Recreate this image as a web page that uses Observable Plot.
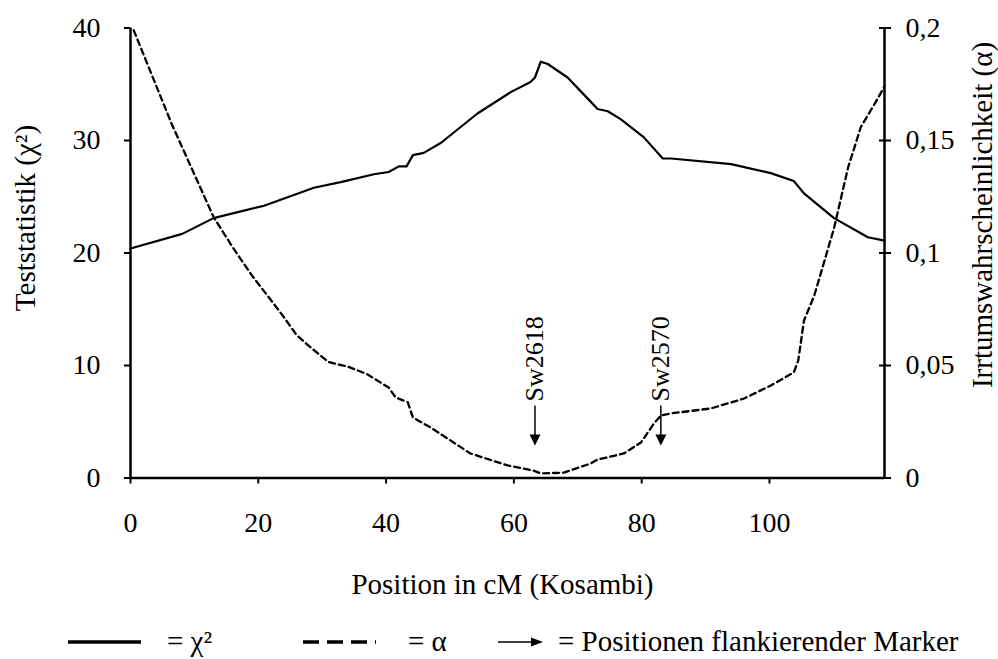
<!DOCTYPE html>
<html>
<head>
<meta charset="utf-8">
<script src="https://cdn.jsdelivr.net/npm/d3@7"></script>
<script src="https://cdn.jsdelivr.net/npm/@observablehq/plot@0.6"></script>
<style>
  html, body { margin: 0; padding: 0; background: #fff; }
  #chart { width: 998px; }
  svg text { font-family: "Liberation Serif", "Times New Roman", serif; }
</style>
</head>
<body>
<div id="chart"></div>
<div id="legend"></div>
<script>
// ---- data ----
const chi2Pos = [0, 8.1, 13, 20.9, 28.7, 32.9, 38.1, 40.4, 42.0, 43.2, 44.2, 45.9, 48.6, 54.3, 59.5, 62.6, 63.3, 64.2, 65.3, 68.4, 71.6, 73.1, 74.7, 76.7, 80.3, 83.3, 84.6, 94.0, 100.2, 103.8, 105.4, 110.1, 115.4, 118];
const chi2Val = [20.4, 21.7, 23.1, 24.2, 25.8, 26.3, 27.0, 27.2, 27.7, 27.7, 28.7, 28.9, 29.8, 32.4, 34.3, 35.2, 35.6, 37.0, 36.8, 35.6, 33.7, 32.8, 32.6, 31.9, 30.3, 28.4, 28.4, 27.9, 27.1, 26.4, 25.3, 23.1, 21.4, 21.1];

const alphaPos = [0.5, 6.5, 13, 16, 19, 22, 24, 26, 28, 31, 34, 37, 40.4, 41.5, 43.4, 44.2, 47.0, 53.2, 59.0, 63.1, 64.2, 67.8, 72, 73.1, 77.2, 79.9, 81.9, 83, 84.6, 90.8, 96, 100.2, 103.8, 104.5, 105.4, 107, 110.1, 112.3, 114.3, 116.4, 118];
const alphaVal = [0.199, 0.157, 0.116, 0.1025, 0.090, 0.079, 0.0715, 0.0635, 0.0585, 0.0515, 0.0495, 0.0462, 0.0402, 0.0358, 0.0336, 0.0269, 0.0224, 0.0109, 0.0056, 0.0033, 0.0020, 0.0024, 0.0064, 0.0082, 0.0109, 0.0158, 0.0242, 0.0278, 0.0287, 0.0309, 0.0353, 0.0411, 0.0469, 0.0522, 0.070, 0.081, 0.111, 0.138, 0.156, 0.166, 0.174];

const markerNames = ["Sw2618", "Sw2570"];
const markerPos = [63.3, 83.0];

const xTicks = [0, 20, 40, 60, 80, 100];
const leftTicks = [0, 10, 20, 30, 40];
const rightTickLabels = ["0", "0,05", "0,1", "0,15", "0,2"];
const alphaFactor = 200; // right axis 0..0.2 maps onto left axis 0..40

const xDomain = [0, 118];
const yDomain = [0, 40];
const xLabel = "Position in cM (Kosambi)";
const yLeftLabel = "Teststatistik (χ²)";
const yRightLabel = "Irrtumswahrscheinlichkeit (α)";

// arrow geometry in left-axis units
const arrowTip = 2.9, arrowStemTop = 6.4, arrowLabelStart = 6.8;

// ---- build tables ----
const chi2 = chi2Pos.map((x, i) => ({x, y: chi2Val[i]}));
const alpha = alphaPos.map((x, i) => ({x, y: alphaVal[i] * alphaFactor}));
const markers = markerNames.map((name, i) => ({name, x: markerPos[i]}));

const downTriangle = {
  draw(ctx, size) {
    const w = Math.sqrt(size);
    ctx.moveTo(0, 0);
    ctx.lineTo(-w / 2, -w);
    ctx.lineTo(w / 2, -w);
    ctx.closePath();
  }
};

const font = '"Liberation Serif", "Times New Roman", serif';

const plot = Plot.plot({
  width: 998,
  height: 610,
  marginLeft: 130,
  marginRight: 114,
  marginTop: 27.5,
  marginBottom: 132.5,
  style: {fontFamily: font, fontSize: "28px", color: "#000", background: "#fff", overflow: "visible"},
  x: {domain: xDomain},
  y: {domain: yDomain},
  marks: [
    Plot.axisX({ticks: xTicks, tickSize: 6, tickPadding: 28, label: null, strokeWidth: 2}),
    Plot.axisY({anchor: "left", ticks: leftTicks, tickSize: 6, tickPadding: 24, label: null, strokeWidth: 2}),
    Plot.axisY({anchor: "right", ticks: leftTicks, tickSize: 6, tickPadding: 15, label: null, strokeWidth: 2,
      tickFormat: d => rightTickLabels[leftTicks.indexOf(d)]}),
    Plot.axisY({anchor: "right", ticks: leftTicks, tickSize: -6, label: null, strokeWidth: 2, tickFormat: () => ""}),
    Plot.ruleY([yDomain[0]], {strokeWidth: 2.5}),
    Plot.ruleX(xDomain, {strokeWidth: 2.5}),
    Plot.line(chi2, {x: "x", y: "y", stroke: "#000", strokeWidth: 2.2}),
    Plot.line(alpha, {x: "x", y: "y", stroke: "#000", strokeWidth: 2.3, strokeDasharray: "6,4"}),
    Plot.ruleX(markers, {x: "x", y1: arrowStemTop, y2: arrowTip + 0.4, stroke: "#000", strokeWidth: 1.5}),
    Plot.dot(markers, {x: "x", y: arrowTip, symbol: downTriangle, r: 6.2, fill: "#000", stroke: "none"}),
    Plot.text(markers, {x: "x", y: arrowLabelStart, text: "name", rotate: -90, textAnchor: "start", fontSize: 26}),
    Plot.text([yLeftLabel], {frameAnchor: "left", textAnchor: "middle", rotate: -90, dx: -105, dy: -35, fontSize: 29}),
    Plot.text([yRightLabel], {frameAnchor: "right", textAnchor: "middle", rotate: -90, dx: 98, dy: -38, fontSize: 29}),
    Plot.text([xLabel], {frameAnchor: "bottom", textAnchor: "middle", lineAnchor: "bottom", dx: -5, dy: 115.5, fontSize: 29})
  ]
});
document.getElementById("chart").appendChild(plot);

// ---- legend (below the SVG) ----
const lg = d3.select("#legend").append("svg").attr("width", 998).attr("height", 49)
  .style("display", "block");
const ly = 32, tb = 41;
lg.append("line").attr("x1", 68).attr("x2", 141).attr("y1", ly).attr("y2", ly)
  .attr("stroke", "#000").attr("stroke-width", 3.5);
lg.append("text").attr("x", 167).attr("y", tb).attr("font-size", 29).text("= χ²");
lg.append("line").attr("x1", 303).attr("x2", 376).attr("y1", ly).attr("y2", ly)
  .attr("stroke", "#000").attr("stroke-width", 3.5).attr("stroke-dasharray", "16,8");
lg.append("text").attr("x", 408).attr("y", tb).attr("font-size", 29).text("= α");
lg.append("line").attr("x1", 498).attr("x2", 533).attr("y1", ly).attr("y2", ly)
  .attr("stroke", "#000").attr("stroke-width", 1.5);
lg.append("path").attr("d", `M543,${ly} L531,${ly - 4.5} L531,${ly + 4.5} Z`).attr("fill", "#000");
lg.append("text").attr("x", 558).attr("y", tb).attr("font-size", 29).text("= Positionen flankierender Marker");
</script>
</body>
</html>
